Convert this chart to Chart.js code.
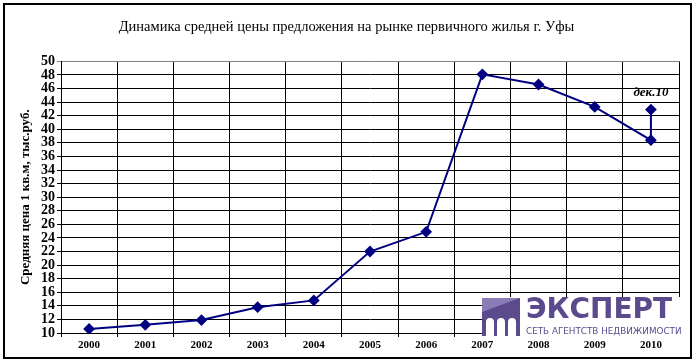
<!DOCTYPE html>
<html>
<head>
<meta charset="utf-8">
<script src="https://cdn.jsdelivr.net/npm/chart.js@4/dist/chart.umd.min.js"></script>
<style>
  body { margin: 0; background: #fff; }
  #wrap { position: relative; width: 696px; height: 363px; }
  #frame { position: absolute; left: 3px; top: 3px; width: 685px; height: 352px; border: 2px solid #000; pointer-events: none; }
  .logo { position: absolute; left: 482px; top: 297px; width: 202px; height: 40px; background: #fff; }
  .logo .icon { position: absolute; left: 0; top: 1px; width: 38px; height: 38px; background: #5b4a8c; overflow: hidden; }
  .logo .icon .tri { position: absolute; left: 0; top: 0; width: 0; height: 0; border-top: 14px solid #8a7cb4; border-right: 38px solid transparent; }
  .logo .icon .arch { position: absolute; bottom: 0; width: 8px; height: 18px; background: #fff; border-radius: 4px 4px 0 0; }
  .logo .name { position: absolute; left: 44px; top: -5px; font: bold 28px "DejaVu Sans", sans-serif; color: #5b4a8c; }
  .logo .sub { position: absolute; left: 44px; top: 29px; font: 8.8px "DejaVu Sans", sans-serif; color: #5b4a8c; white-space: nowrap; }
</style>
</head>
<body>
<div id="wrap">
  <canvas id="priceChart" width="696" height="363"></canvas>
  <div class="logo">
    <div class="icon"><div class="tri"></div>
      <div class="arch" style="left:4px"></div><div class="arch" style="left:15px"></div><div class="arch" style="left:26px"></div>
    </div>
    <div class="name">ЭКСПЕРТ</div>
    <div class="sub">СЕТЬ АГЕНТСТВ НЕДВИЖИМОСТИ</div>
  </div>
  <div id="frame"></div>
</div>
<script>
// Data
const years = ['2000', '2001', '2002', '2003', '2004', '2005', '2006', '2007', '2008', '2009', '2010'];
const prices = [10.6, 11.2, 11.9, 13.8, 14.8, 22.0, 24.9, 48.1, 46.6, 43.3, 38.4];
// extra point for December 2010, placed on the 2010 category
const decLabel = 'дек.10';
const decPrice = 42.9;

const points = years.map((y, i) => ({ x: y, y: prices[i] }));
points.push({ x: '2010', y: decPrice });

const serif = '"Liberation Serif", "Times New Roman", serif';

// Label above the December point
const decLabelPlugin = {
  id: 'decLabel',
  afterDatasetsDraw(chart) {
    const meta = chart.getDatasetMeta(0);
    const pt = meta.data[meta.data.length - 1];
    const ctx = chart.ctx;
    ctx.save();
    ctx.font = 'italic bold 13px ' + serif;
    ctx.fillStyle = '#000';
    ctx.textAlign = 'center';
    ctx.textBaseline = 'bottom';
    ctx.fillText(decLabel, pt.x, pt.y - 10);
    ctx.restore();
  }
};

const ctx = document.getElementById('priceChart').getContext('2d');
const priceChart = new Chart(ctx, {
  type: 'line',
  data: {
    labels: years,
    datasets: [{
      data: points,
      borderColor: '#000080',
      backgroundColor: '#000080',
      borderWidth: 2,
      pointStyle: 'rectRot',
      pointRadius: 4.5,
      pointBackgroundColor: '#000080',
      pointBorderColor: '#000080',
      tension: 0
    }]
  },
  options: {
    responsive: false,
    animation: false,
    layout: { padding: { left: 14, right: 17, top: 4, bottom: 6 } },
    plugins: {
      legend: { display: false },
      tooltip: { enabled: false },
      title: {
        display: true,
        text: 'Динамика средней цены предложения на рынке первичного жилья г. Уфы',
        font: { family: serif, size: 14.5, weight: 'normal' },
        color: '#000',
        padding: { top: 14, bottom: 26 }
      }
    },
    scales: {
      x: {
        type: 'category',
        offset: true,
        grid: {
          offset: true,
          color: '#000',
          lineWidth: 1,
          tickLength: 4,
          drawTicks: true
        },
        border: { color: '#000', width: 1 },
        ticks: {
          font: { family: serif, size: 11, weight: 'bold' },
          color: '#000',
          padding: 2,
          maxRotation: 0,
          autoSkip: false
        },
        afterFit(scale) { scale.height = 24; }
      },
      y: {
        min: 10,
        max: 50,
        grid: {
          color: ctx => (ctx.tick && ctx.tick.value === 50 ? '#808080' : '#000'),
          lineWidth: 1,
          tickLength: 4
        },
        border: { color: '#000', width: 1 },
        ticks: {
          stepSize: 2,
          autoSkip: false,
          font: { family: serif, size: 14, weight: 'bold' },
          color: '#000',
          padding: 2
        },
        title: {
          display: true,
          text: 'Средняя цена 1 кв.м, тыс.руб.',
          font: { family: serif, size: 13, weight: 'bold' },
          color: '#000',
          padding: { top: 4, bottom: 4 }
        },
        afterFit(scale) { scale.width = 47; }
      }
    }
  },
  plugins: [decLabelPlugin]
});
</script>
</body>
</html>
